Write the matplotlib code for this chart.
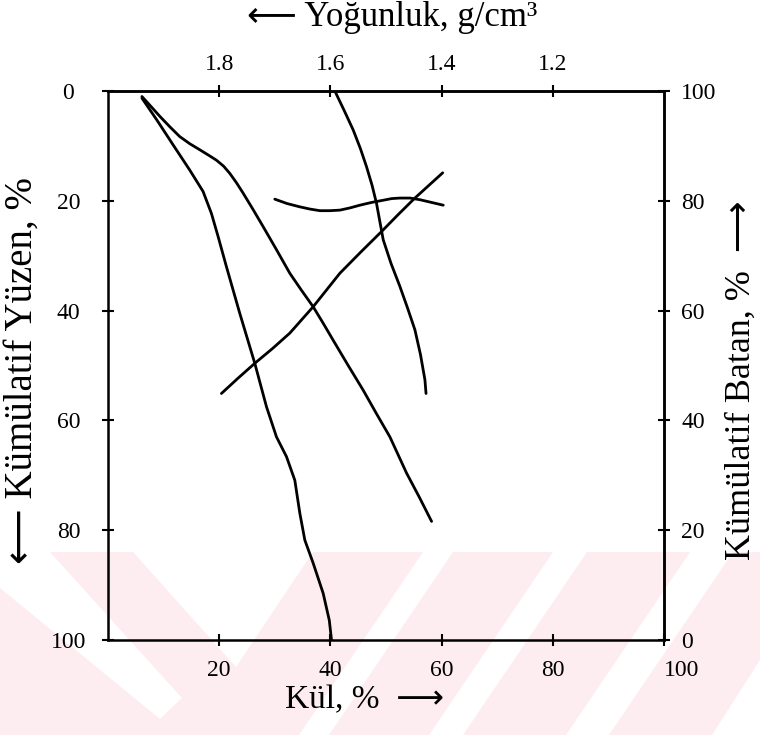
import numpy as np
import matplotlib
matplotlib.use("Agg")
import matplotlib.pyplot as plt
from matplotlib.patches import Polygon

plt.rcParams['font.family'] = ['Liberation Serif', 'DejaVu Sans']

# --- curves (Kül %, Kümülatif Yüzen %) ---
curveA_x = [6.1, 8.8, 11.7, 14.7, 17.1, 18.6, 19.8, 21.3, 23.7, 26.4, 28.5, 30.3,
            32.1, 33.6, 34.5, 35.4, 36.9, 38.7, 39.8, 40.2]
curveA_y = [1.3, 5.3, 9.8, 14.4, 18.3, 22.3, 26.5, 32.0, 40.5, 49.6, 57.5, 63.0,
            66.6, 70.9, 76.9, 81.8, 86.0, 91.5, 96.4, 100.0]

curveB_x = [6.1, 7.8, 9.4, 11.2, 12.9, 14.7, 16.5, 18.1, 19.5, 20.8, 21.9, 23.1,
            24.3, 26.1, 27.9, 30.3, 32.7, 34.8, 36.9, 38.7, 40.5, 43.2, 45.9,
            48.3, 50.7, 53.7, 56.0, 58.2]
curveB_y = [1.0, 2.9, 4.7, 6.6, 8.3, 9.6, 10.7, 11.7, 12.6, 13.7, 15.0, 16.7,
            18.6, 21.6, 24.7, 28.9, 33.2, 36.3, 39.3, 42.3, 45.4, 50.0, 54.5,
            58.8, 63.0, 69.6, 74.0, 78.4]

curveC_x = [40.8, 42.5, 44.1, 45.4, 46.5, 47.5, 48.3, 48.9, 49.5, 50.9, 52.5, 53.9,
            55.2, 56.2, 57.0, 57.2]
curveC_y = [0.0, 3.6, 7.1, 10.5, 13.8, 17.2, 20.5, 23.8, 27.1, 31.4, 35.6, 39.6,
            43.5, 48.0, 52.6, 55.1]

curveD_x = [20.4, 23.4, 26.4, 29.6, 32.7, 36.9, 41.7, 45.5, 49.2, 52.2, 55.2, 60.2]
curveD_y = [55.1, 52.3, 49.6, 46.9, 44.1, 39.3, 33.2, 29.3, 25.6, 22.5, 19.5, 14.9]

curveE_x = [30.0, 32.2, 34.5, 36.3, 38.1, 39.9, 41.7, 43.5, 45.3, 47.4, 49.5, 51.0,
            52.5, 54.3, 56.1, 58.2, 60.3]
curveE_y = [19.7, 20.5, 21.1, 21.5, 21.8, 21.8, 21.7, 21.3, 20.8, 20.3, 19.9, 19.6,
            19.5, 19.5, 19.8, 20.3, 20.8]

kul_ticks = [20, 40, 60, 80, 100]
yuzen_ticks = [0, 20, 40, 60, 80, 100]
batan_ticks = [0, 20, 40, 60, 80, 100]
dens_ticks = [1.8, 1.6, 1.4, 1.2]

W, H = 760, 735
fig = plt.figure(figsize=(W / 100, H / 100), dpi=100)

# background watermark stripes (pixel coords, top-left origin)
bg = fig.add_axes([0, 0, 1, 1], zorder=-10)
bg.set_xlim(0, W)
bg.set_ylim(H, 0)
bg.axis('off')

pink = '#fdecf0'
bg.add_patch(Polygon([(0, 552), (760, 552), (760, 735), (0, 735)],
                     facecolor=pink, edgecolor='none'))
white_shapes = [
    [(0, 552), (50, 552), (182, 698), (160, 719), (0, 588)],
    [(133, 552), (313, 552), (236, 667)],
    [(423, 552), (453, 552), (329, 735), (299, 735)],
    [(553, 552), (587, 552), (463, 735), (429, 735)],
    [(690, 552), (733, 552), (609, 735), (566, 735)],
    [(760, 660), (760, 735), (712, 735)],
]
for shp in white_shapes:
    bg.add_patch(Polygon(shp, facecolor='white', edgecolor='none'))

ax = fig.add_axes([108 / W, 1 - 640 / H, (664 - 108) / W, (640 - 91) / H], zorder=1)
ax.set_facecolor('none')

for xs, ys in [(curveA_x, curveA_y), (curveB_x, curveB_y), (curveC_x, curveC_y),
               (curveD_x, curveD_y), (curveE_x, curveE_y)]:
    ax.plot(xs, ys, color='black', lw=2.0, solid_capstyle='round',
            solid_joinstyle='round')

ax.set_xlim(0, 100)
ax.set_ylim(100, 0)
ax.set_xticks(kul_ticks)
ax.set_yticks(yuzen_ticks)

tick_kw = dict(direction='inout', length=9, width=1.5, labelsize=17, color='black')
ax.tick_params(axis='x', pad=10, **tick_kw)
ax.tick_params(axis='y', pad=24, **tick_kw)
for lbl in ax.get_yticklabels():
    lbl.set_horizontalalignment('center')
ax.get_xticklabels()[-1].set_horizontalalignment('left')
for s in ax.spines.values():
    s.set_linewidth(1.8)

# top axis: density
top = ax.secondary_xaxis('top', functions=(lambda k: 2.0 - k / 100.0,
                                           lambda d: (2.0 - d) * 100.0))
top.set_xticks(dens_ticks)
top.set_xticklabels([f'{d:.1f}' for d in dens_ticks])
top.tick_params(axis='x', pad=7, **tick_kw)
top.spines['top'].set_linewidth(1.8)

# right axis: cumulative sink
right = ax.secondary_yaxis('right', functions=(lambda y: 100 - y, lambda b: 100 - b))
right.set_yticks(batan_ticks)
right.tick_params(axis='y', pad=8, **tick_kw)
right.spines['right'].set_linewidth(1.8)

# axis titles
fig.text(392 / W, 1 - 18 / H, '⟵ Yoğunluk, g/cm³', ha='center', va='center', fontsize=25)
fig.text(365 / W, 1 - 700 / H, 'Kül, %  ⟶', ha='center', va='center', fontsize=24)
fig.text(22 / W, 1 - 370 / H, '⟵ Kümülatif Yüzen, %', ha='center', va='center',
         rotation=90, fontsize=28)
fig.text(741 / W, 1 - 380 / H, 'Kümülatif Batan, %  ⟶', ha='center', va='center',
         rotation=90, fontsize=26)

fig.savefig('out.png', dpi=100, facecolor='white')
